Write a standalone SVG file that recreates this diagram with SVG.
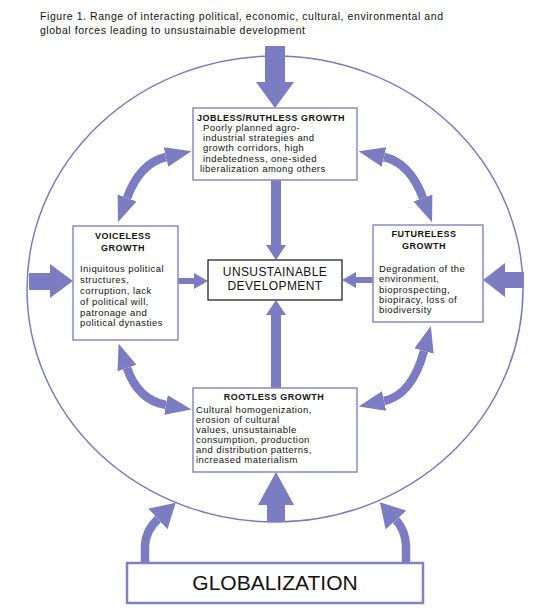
<svg xmlns="http://www.w3.org/2000/svg" width="553" height="612" viewBox="0 0 553 612">
<style>
.t{font-family:"Liberation Sans",Arial,sans-serif;fill:#111}
.title{font-size:10.5px}
.hd{font-size:9px;font-weight:bold;letter-spacing:0.5px}
.bd{font-size:9.5px;letter-spacing:0.45px}
.box{fill:#fff;stroke:#8a8ac6;stroke-width:1.5}
.arr{fill:#7c7cc2;stroke:none}
.cv{fill:none;stroke:#7c7cc2;stroke-width:8.5}
</style>
<defs>
<marker id="hd" markerUnits="userSpaceOnUse" viewBox="0 0 26 20" markerWidth="26" markerHeight="20" refX="0" refY="10" orient="auto-start-reverse">
<path d="M0,0 L26,10 L0,20 z" fill="#7c7cc2"/>
</marker>
<marker id="hg" markerUnits="userSpaceOnUse" viewBox="0 0 24 28" markerWidth="24" markerHeight="28" refX="0" refY="14" orient="auto">
<path d="M0,0 L24,14 L0,28 z" fill="#7c7cc2"/>
</marker>
</defs>
<rect width="553" height="612" fill="#fff"/>
<g id="title">
<text class="t title" x="40" y="20" textLength="403">Figure 1. Range of interacting political, economic, cultural, environmental and</text>
<text class="t title" x="40" y="34" textLength="265">global forces leading to unsustainable development</text>
</g>
<g id="circle">
<ellipse cx="275" cy="289" rx="248" ry="233" fill="none" stroke="#7a7abf" stroke-width="1.5"/>
</g>
<g id="connectors">
<polygon class="arr" points="265,46 285,46 285,82 294,82 275,108 256,82 265,82"/>
<polygon class="arr" points="267,522 285,522 285,505 294,505 276,472 258,505 267,505"/>
<polygon class="arr" points="29,273 50,273 50,264 73,281 50,298 50,290 29,290"/>
<polygon class="arr" points="524,272 505,272 505,263 483,280 505,297 505,288 524,288"/>
<polygon class="arr" points="271,180 281,180 281,245 286,245 276,260 266,245 271,245"/>
<polygon class="arr" points="271,388 281,388 281,315 286,315 276,300 266,315 271,315"/>
<polygon class="arr" points="178,278 194,278 194,273 208,281 194,289 194,284 178,284"/>
<polygon class="arr" points="373,277 356,277 356,272 342,280 356,288 356,283 373,283"/>
<path class="cv" d="M127,198 Q140,163 166,157" marker-start="url(#hd)" marker-end="url(#hd)"/>
<path class="cv" d="M423,198 Q410,163 384,157" marker-start="url(#hd)" marker-end="url(#hd)"/>
<path class="cv" d="M127,368 Q138,400 166,405" marker-start="url(#hd)" marker-end="url(#hd)"/>
<path class="cv" d="M424,351 Q412,395 384,401" marker-start="url(#hd)" marker-end="url(#hd)"/>
<path class="cv" stroke-width="10" d="M145,564 L145,545 Q146,530 158,519" marker-end="url(#hg)"/>
<path class="cv" stroke-width="10" d="M406,564 L406,545 Q405,530 396,520" marker-end="url(#hg)"/>
</g>
<g id="jobless">
<rect class="box" x="193" y="108" width="164" height="72"/>
<text class="t hd" x="197" y="121">JOBLESS/RUTHLESS GROWTH</text>
<text class="t bd" x="203" y="131">Poorly planned agro-</text>
<text class="t bd" x="203" y="141">industrial strategies and</text>
<text class="t bd" x="203" y="151">growth corridors, high</text>
<text class="t bd" x="203" y="162">indebtedness, one-sided</text>
<text class="t bd" x="200" y="172">liberalization among others</text>
</g>
<g id="voiceless">
<rect class="box" x="73" y="226" width="105" height="114"/>
<text class="t hd" x="123" y="239" text-anchor="middle">VOICELESS</text>
<text class="t hd" x="123" y="251" text-anchor="middle">GROWTH</text>
<text class="t bd" x="80" y="272">Iniquitous political</text>
<text class="t bd" x="80" y="283">structures,</text>
<text class="t bd" x="80" y="294">corruption, lack</text>
<text class="t bd" x="80" y="305">of political will,</text>
<text class="t bd" x="80" y="316">patronage and</text>
<text class="t bd" x="80" y="326">political dynasties</text>
</g>
<g id="futureless">
<rect class="box" x="373" y="225" width="110" height="97"/>
<text class="t hd" x="424" y="237" text-anchor="middle">FUTURELESS</text>
<text class="t hd" x="424" y="249" text-anchor="middle">GROWTH</text>
<text class="t bd" x="379" y="272">Degradation of the</text>
<text class="t bd" x="379" y="282">environment,</text>
<text class="t bd" x="379" y="293">bioprospecting,</text>
<text class="t bd" x="379" y="303">biopiracy, loss of</text>
<text class="t bd" x="379" y="313">biodiversity</text>
</g>
<g id="rootless">
<rect class="box" x="193" y="388" width="164" height="84"/>
<text class="t hd" x="274" y="400" text-anchor="middle">ROOTLESS GROWTH</text>
<text class="t bd" x="196" y="413">Cultural homogenization,</text>
<text class="t bd" x="196" y="423">erosion of cultural</text>
<text class="t bd" x="196" y="433">values, unsustainable</text>
<text class="t bd" x="196" y="443">consumption, production</text>
<text class="t bd" x="196" y="453">and distribution patterns,</text>
<text class="t bd" x="196" y="463">increased materialism</text>
</g>
<g id="unsustainable">
<rect x="208" y="260" width="134" height="40" fill="#fff" stroke="#111" stroke-width="1.2"/>
<text class="t" x="275" y="276" font-size="12" letter-spacing="0.4" text-anchor="middle">UNSUSTAINABLE</text>
<text class="t" x="275" y="290" font-size="12" letter-spacing="0.4" text-anchor="middle">DEVELOPMENT</text>
</g>
<g id="globalization">
<rect x="127" y="563" width="296" height="40" fill="#fff" stroke="#8080c2" stroke-width="2.5"/>
<text class="t" x="275" y="590" font-size="21" text-anchor="middle">GLOBALIZATION</text>
</g>
</svg>
